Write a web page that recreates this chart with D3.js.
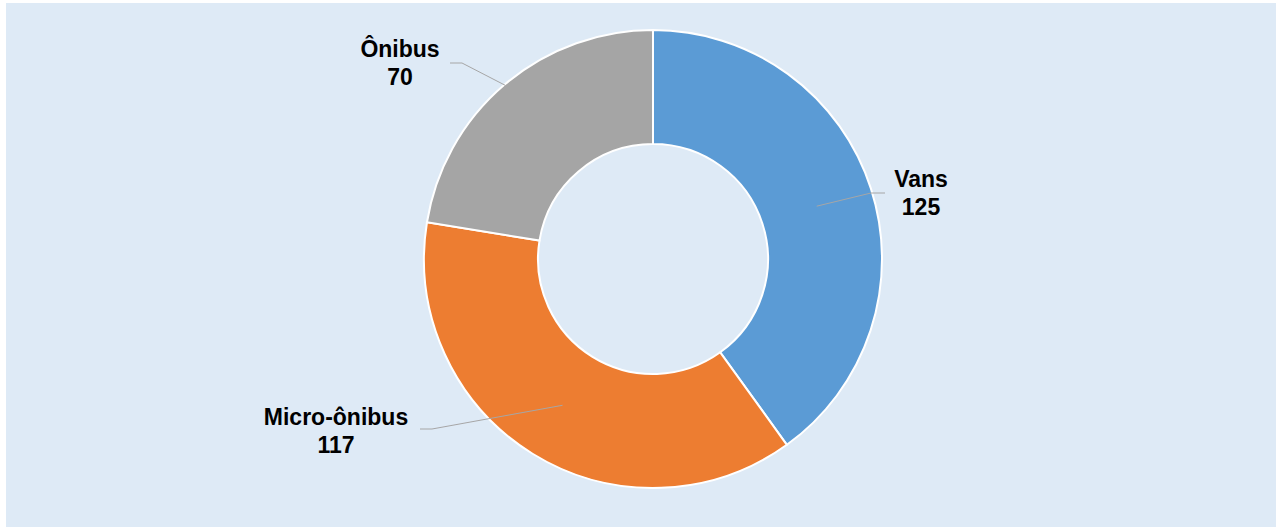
<!DOCTYPE html>
<html>
<head>
<meta charset="utf-8">
<script src="https://cdn.jsdelivr.net/npm/d3@7"></script>
<style>
  body { margin: 0; background: #fff; }
  text { font-family: "Liberation Sans", Arial, sans-serif; }
</style>
</head>
<body>
<div id="chart"></div>
<script>
var categories = ["Vans", "Micro-ônibus", "Ônibus"];
var values = [125, 117, 70];
var colors = ["#5b9bd5", "#ed7d31", "#a5a5a5"];

var width = 1276, height = 527;

var svg = d3.select("#chart")
  .append("svg")
    .attr("width", width)
    .attr("height", height);

// panel background
svg.append("rect")
  .attr("x", 6)
  .attr("y", 3)
  .attr("width", width - 6)
  .attr("height", height - 3)
  .attr("fill", "#deeaf6");

var cx = 653, cy = 259,
    outerR = 229, innerR = 115;

var data = categories.map(function(c, i) { return {name: c, value: values[i], color: colors[i]}; });

var pie = d3.pie()
  .sort(null)
  .value(function(d) { return d.value; });

var arc = d3.arc()
  .innerRadius(innerR)
  .outerRadius(outerR);

var g = svg.append("g")
  .attr("transform", "translate(" + cx + "," + cy + ")");

var arcs = pie(data);

g.selectAll("path.slice")
  .data(arcs)
  .enter()
  .append("path")
    .attr("class", "slice")
    .attr("d", arc)
    .attr("fill", function(d) { return d.data.color; })
    .attr("stroke", "#fff")
    .attr("stroke-width", 2);

// label placement (per slice): radius for leader start, elbow and text anchor offsets
var labelCfg = {
  "Vans":         {r0: 172, elbow: [218, -66], end: [232, -66], text: [268, -72]},
  "Micro-ônibus": {r0: 172, elbow: [-221, 170], end: [-233, 170], text: [-317, 166]},
  "Ônibus":       {r0: 228, elbow: [-191, -196], end: [-203, -196], text: [-253, -202]}
};

function polar(r, a) { return [r * Math.sin(a), -r * Math.cos(a)]; }

arcs.forEach(function(d) {
  var cfg = labelCfg[d.data.name];
  var mid = (d.startAngle + d.endAngle) / 2;
  var p0 = polar(cfg.r0, mid);

  g.append("polyline")
    .attr("points", [p0, cfg.elbow, cfg.end].map(function(p) { return p.join(","); }).join(" "))
    .attr("fill", "none")
    .attr("stroke", "#a6a6a6")
    .attr("stroke-width", 1);

  var t = g.append("text")
    .attr("x", cfg.text[0])
    .attr("y", cfg.text[1])
    .attr("text-anchor", "middle")
    .style("font-size", "23px")
    .style("font-weight", "bold")
    .attr("fill", "#000");
  t.append("tspan").attr("x", cfg.text[0]).text(d.data.name);
  t.append("tspan").attr("x", cfg.text[0]).attr("dy", 28).text(d.data.value);
});
</script>
</body>
</html>
